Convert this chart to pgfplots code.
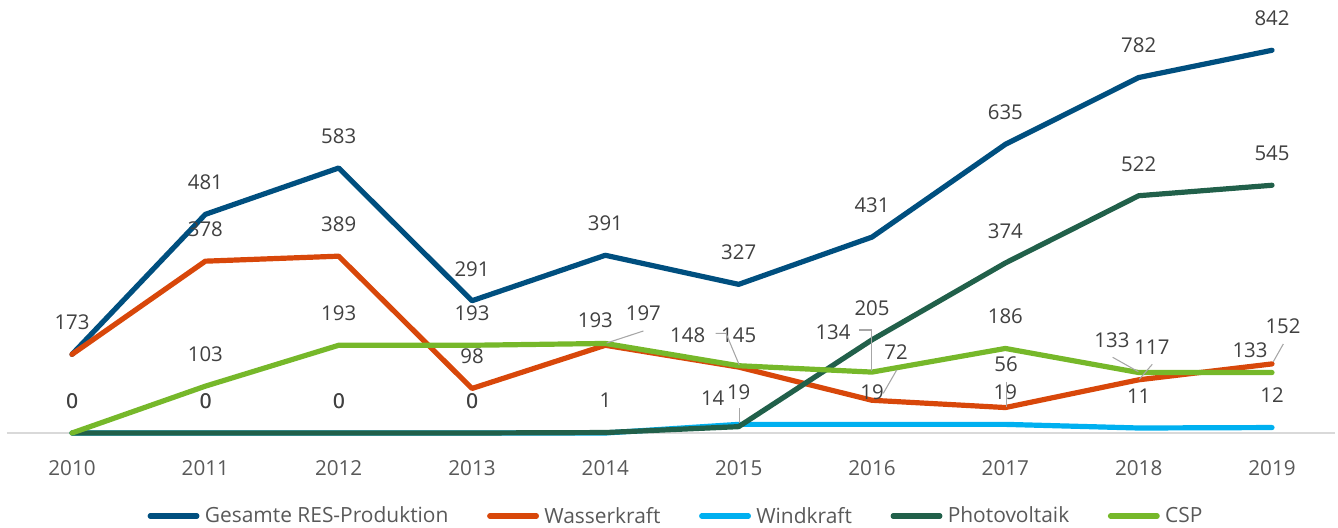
\documentclass[border=0pt]{standalone}
\usepackage{pgfplots}
\pgfplotsset{compat=1.18}
\usepackage{fontspec}
\setmainfont{Open Sans}
\definecolor{cGes}{HTML}{004F7F}
\definecolor{cWas}{HTML}{D8470A}
\definecolor{cWind}{HTML}{00B0F0}
\definecolor{cPV}{HTML}{21604A}
\definecolor{cCSP}{HTML}{76B82A}
\definecolor{lblgray}{HTML}{404040}
\definecolor{tickgray}{HTML}{595959}
\definecolor{axisgray}{HTML}{D9D9D9}
\definecolor{leadgray}{HTML}{A6A6A6}
\tikzset{
  lbl/.style={font=\fontsize{15.3}{18}\selectfont, text=lblgray, inner sep=0pt, anchor=center},
  lead/.style={draw=leadgray, line width=0.8pt},
}
% standard label: 32px above the point
\newcommand{\stl}[3]{\node[lbl, yshift=24pt] at (axis cs:#1,#2) {#3};}
% doubled zero label (two overlapping labels)
\newcommand{\zl}[1]{\node[lbl, yshift=24pt] at (axis cs:#1,0) {0};\node[lbl, yshift=24pt, xshift=0.4pt] at (axis cs:#1,0) {0};}
% custom label: offset in px from (year,0)
\newcommand{\cl}[4]{\node[lbl] at ([shift={(#2*0.75pt,#3*0.75pt)}]axis cs:#1,0) {#4};}
% leader line, points in px offsets from (year,0)
\newcommand{\ld}[5]{\draw[lead] ([shift={(#2*0.75pt,#3*0.75pt)}]axis cs:#1,0) -- ([shift={(#4*0.75pt,#5*0.75pt)}]axis cs:#1,0);}
\begin{document}
\begin{tikzpicture}
\begin{axis}[
  x=100pt, y=0.340909pt,
  xmin=2009.5125, xmax=2019.4725, ymin=0, ymax=952.6,
  axis x line=bottom, axis y line=none,
  x axis line style={-, draw=axisgray, line width=1.1pt},
  xtick={2010,2011,2012,2013,2014,2015,2016,2017,2018,2019},
  xticklabels={2010,2011,2012,2013,2014,2015,2016,2017,2018,2019},
  xtick style={draw=none},
  ytick=\empty,
  xticklabel style={font=\fontsize{15.5}{18}\selectfont, text=tickgray, anchor=center, yshift=-24pt},
  clip=false,
  every axis plot/.append style={line width=3.9pt, line join=round, line cap=round},
  legend columns=-1,
  legend image code/.code={\draw[#1] (0pt,0pt) -- (35pt,0pt);},
  legend style={at={(0.503,-0.1917)}, anchor=center, draw=none, fill=none,
    font=\fontsize{15.7}{18}\selectfont, text=tickgray,
    /tikz/every odd column/.append style={column sep=4pt},
    /tikz/every even column/.append style={column sep=29pt},
    nodes={inner sep=0pt}},
]
\addplot[cGes] coordinates {(2010,173)(2011,481)(2012,583)(2013,291)(2014,391)(2015,327)(2016,431)(2017,635)(2018,782)(2019,842)};
\addplot[cWas] coordinates {(2010,173)(2011,378)(2012,389)(2013,98)(2014,193)(2015,145)(2016,72)(2017,56)(2018,117)(2019,152)};
\addplot[cWind] coordinates {(2010,0)(2011,0)(2012,0)(2013,0)(2014,0)(2015,19)(2016,19)(2017,19)(2018,11)(2019,12)};
\addplot[cPV] coordinates {(2010,0)(2011,0)(2012,0)(2013,0)(2014,1)(2015,14)(2016,205)(2017,374)(2018,522)(2019,545)};
\addplot[cCSP] coordinates {(2010,0)(2011,103)(2012,193)(2013,193)(2014,197)(2015,148)(2016,134)(2017,186)(2018,133)(2019,133)};
\legend{Gesamte RES-Produktion, Wasserkraft, Windkraft, Photovoltaik, CSP}

% Gesamte
\stl{2010}{173}{173}\stl{2011}{481}{481}\stl{2012}{583}{583}\stl{2013}{291}{291}\stl{2014}{391}{391}
\stl{2015}{327}{327}\stl{2016}{431}{431}\stl{2017}{635}{635}\stl{2018}{782}{782}\stl{2019}{842}{842}
% Wasserkraft
\stl{2011}{378}{378}\stl{2012}{389}{389}\stl{2013}{98}{98}
\cl{2014}{-10}{113}{193}
\cl{2015}{0}{98}{145}
\cl{2016}{24}{81}{72}
\cl{2017}{0.7}{68.7}{56}
\cl{2018}{13.3}{86}{117}
\cl{2019}{11}{107}{152}
% CSP
\stl{2011}{103}{103}\stl{2012}{193}{193}\stl{2013}{193}{193}\stl{2017}{186}{186}
\cl{2014}{38}{120}{197}
\cl{2015}{-51}{98}{148}
\cl{2016}{-39}{101}{134}
\cl{2018}{-26.7}{93}{133}
\cl{2019}{-22}{83}{133}
% Photovoltaik / Windkraft zeros
\zl{2010}\zl{2011}\zl{2012}\zl{2013}
\stl{2014}{1}{1}
\cl{2015}{-26}{35}{14}
\stl{2016}{205}{205}\stl{2017}{374}{374}\stl{2018}{522}{522}\stl{2019}{545}{545}
% Windkraft
\stl{2015}{19}{19}\stl{2016}{19}{19}\stl{2017}{19}{19}\stl{2018}{11}{11}\stl{2019}{12}{12}
% leader lines
\ld{2014}{38}{102}{1.4}{90}
\draw[lead] ([shift={(-23*0.75pt,99.7*0.75pt)}]axis cs:2015,0) -- ([shift={(-12.7*0.75pt,99.7*0.75pt)}]axis cs:2015,0) -- ([shift={(0.6*0.75pt,68*0.75pt)}]axis cs:2015,0);
\ld{2015}{0.6}{24.7}{0.6}{10.3}
\draw[lead] ([shift={(-12.7*0.75pt,103*0.75pt)}]axis cs:2016,0) -- ([shift={(-0.3*0.75pt,103*0.75pt)}]axis cs:2016,0) -- ([shift={(-0.3*0.75pt,62.3*0.75pt)}]axis cs:2016,0);
\ld{2016}{24.7}{63}{11.3}{39.7}
\ld{2017}{0.7}{51.3}{0.7}{26.3}
\ld{2018}{-26}{75.7}{-0.4}{61.3}
\ld{2018}{13.6}{68.7}{0.6}{53.7}
\ld{2019}{11.3}{89}{1.3}{71.3}

\coordinate (bbl) at (axis cs:2009.46,-209);
\coordinate (btr) at (axis cs:2019.495,952.6);
\end{axis}
\pgfresetboundingbox
\path[use as bounding box] (bbl) rectangle (btr);
\end{tikzpicture}
\end{document}
